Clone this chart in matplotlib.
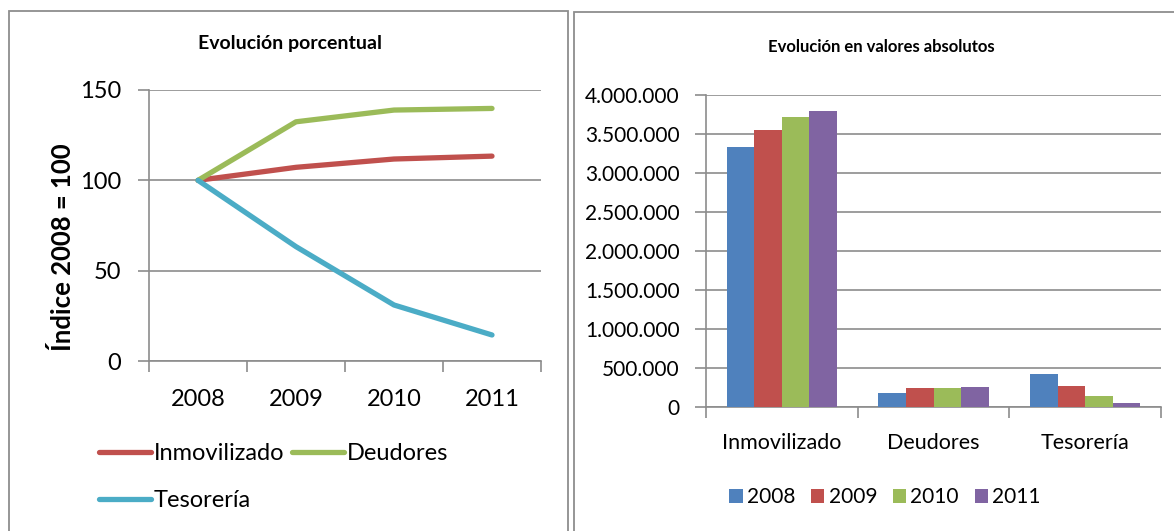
import matplotlib
matplotlib.use("Agg")
import matplotlib.pyplot as plt
from matplotlib.patches import Rectangle, Patch
from matplotlib.ticker import FuncFormatter
import numpy as np

# ---- data ----
years = ["2008", "2009", "2010", "2011"]
concepts = ["Inmovilizado", "Deudores", "Tesorería"]

# index 2008 = 100
idx_inmovilizado = [100, 107.2, 111.8, 113.4]
idx_deudores = [100, 132.4, 138.9, 139.8]
idx_tesoreria = [100, 63.3, 31.0, 14.4]

# absolute values per year (one list per year, ordered as concepts)
abs_2008 = [3337000, 185000, 429000]
abs_2009 = [3551000, 249000, 265000]
abs_2010 = [3714000, 249000, 137000]
abs_2011 = [3799000, 251000, 51000]

left_ticks = [0, 50, 100, 150]
right_ticks = [0, 500000, 1000000, 1500000, 2000000, 2500000, 3000000, 3500000, 4000000]

C_BLUE = "#4F81BD"
C_RED = "#C0504D"
C_GREEN = "#9BBB59"
C_PURPLE = "#8064A2"
C_CYAN = "#4BACC6"
GRID = "#8C8C8C"
BORDER = "#8E8E8E"

MAIN_FONT = ["Lato", "DejaVu Sans"]

W, H = 1174, 531
fig = plt.figure(figsize=(W / 100, H / 100), dpi=100)
fig.patch.set_facecolor("white")


def px_axes(x0, y0, x1, y1):
    """Create axes from pixel box (top-left origin)."""
    return fig.add_axes([x0 / W, 1 - y1 / H, (x1 - x0) / W, (y1 - y0) / H])


# panel frames
fig.patches.append(Rectangle((9 / W, -0.1), (568 - 9) / W, 1.1 - 11 / H,
                             transform=fig.transFigure, fill=False,
                             edgecolor=BORDER, linewidth=1.3))
fig.patches.append(Rectangle((574 / W, -0.1), 0.6, 1.1 - 12 / H,
                             transform=fig.transFigure, fill=False,
                             edgecolor=BORDER, linewidth=1.3))


def style_axes(ax):
    for s in ["top", "right"]:
        ax.spines[s].set_visible(False)
    for s in ["left", "bottom"]:
        ax.spines[s].set_color(GRID)
        ax.spines[s].set_linewidth(1.2)
    ax.set_axisbelow(True)
    ax.grid(axis="y", color=GRID, linewidth=1.2)
    ax.tick_params(axis="both", colors=GRID, length=8, width=1.2, labelcolor="black")


# ---- left: percentage evolution ----
ax1 = px_axes(149, 90, 541, 361)
x = np.arange(len(years))
line_kw = dict(lw=3.8, solid_capstyle="round", solid_joinstyle="round")
l_inm, = ax1.plot(x, idx_inmovilizado, color=C_RED, label="Inmovilizado", **line_kw)
l_deu, = ax1.plot(x, idx_deudores, color=C_GREEN, label="Deudores", **line_kw)
l_tes, = ax1.plot(x, idx_tesoreria, color=C_CYAN, label="Tesorería", **line_kw)
ax1.set_xlim(-0.5, 3.5)
ax1.set_ylim(0, 150)
ax1.set_yticks(left_ticks)
ax1.set_xticks(np.arange(-0.5, 4, 1))
ax1.set_xticklabels([])
ax1.set_xticks(x, minor=True)
ax1.set_xticklabels(years, minor=True)
style_axes(ax1)
ax1.tick_params(axis="x", which="minor", length=0, pad=20, labelsize=17)
ax1.tick_params(axis="y", labelsize=17, pad=12)
for lab in ax1.get_xticklabels(minor=True) + ax1.get_yticklabels():
    lab.set_family(MAIN_FONT)
ax1.set_ylabel("Índice 2008 = 100", family=MAIN_FONT, fontsize=18.5,
               fontweight="bold")
ax1.yaxis.set_label_coords(-0.19, 0.42)
fig.text(290 / W, 1 - 44 / H, "Evolución porcentual", family=MAIN_FONT,
         fontsize=14, fontweight="bold", ha="center", va="center")

fig.legend([l_inm, l_tes, l_deu], ["Inmovilizado", "Tesorería", "Deudores"],
           ncol=2, loc="upper left", bbox_to_anchor=(78 / W, 1 - 422 / H),
           frameon=False, handlelength=2.2, handletextpad=0.12,
           columnspacing=0.3, labelspacing=1.1,
           prop={"family": MAIN_FONT, "size": 17})

# ---- right: absolute values ----
ax2 = px_axes(706, 95, 1161, 407)
gx = np.arange(len(concepts))
bw = 1 / 5.5
series = [abs_2008, abs_2009, abs_2010, abs_2011]
colors = [C_BLUE, C_RED, C_GREEN, C_PURPLE]
for j, (vals, col, yr) in enumerate(zip(series, colors, years)):
    ax2.bar(gx + (j - 1.5) * bw, vals, width=bw, color=col, label=yr,
            edgecolor="none", zorder=3)
ax2.set_xlim(-0.5, 2.5)
ax2.set_ylim(0, 4000000)
ax2.set_yticks(right_ticks)
ax2.yaxis.set_major_formatter(FuncFormatter(lambda v, p: f"{int(v):,}".replace(",", ".")))
ax2.set_xticks(np.arange(-0.5, 3, 1))
ax2.set_xticklabels([])
ax2.set_xticks(gx, minor=True)
ax2.set_xticklabels(concepts, minor=True)
style_axes(ax2)
ax2.tick_params(axis="x", which="minor", length=0, pad=19, labelsize=15.5)
ax2.tick_params(axis="y", labelsize=15, pad=11)
for lab in ax2.get_xticklabels(minor=True) + ax2.get_yticklabels():
    lab.set_family(MAIN_FONT)
fig.text(881 / W, 1 - 47 / H, "Evolución en valores absolutos", family=MAIN_FONT,
         fontsize=12, fontweight="bold", ha="center", va="center")

handles = [Patch(facecolor=c, edgecolor="none") for c in colors]
fig.legend(handles, years, ncol=4, loc="center", bbox_to_anchor=(885 / W, 1 - 497 / H),
           frameon=False, handlelength=0.65, handleheight=0.65, handletextpad=0.2,
           columnspacing=0.75, prop={"family": MAIN_FONT, "size": 15})

fig.savefig("out.png", dpi=100, facecolor="white")
